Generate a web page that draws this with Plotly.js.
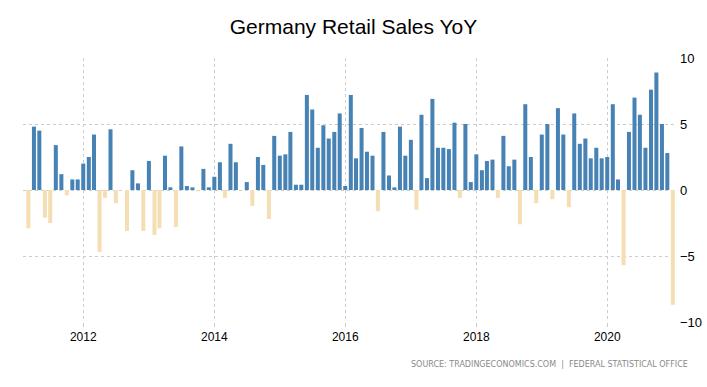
<!DOCTYPE html>
<html>
<head>
<meta charset="utf-8">
<script src="https://cdn.plot.ly/plotly-3.0.1.min.js"></script>
<style>html,body{margin:0;padding:0;background:#fff;}#chart{width:707px;height:387px;}</style>
</head>
<body>
<div id="chart"></div>
<script>
// Monthly YoY change (%), Feb 2011 .. Jan 2021
var startYear = 2011, startMonth = 2;
var values = [
  0, -2.9, 4.8, 4.5, -2.1, -2.5, 3.4, 1.2, -0.4, 0.8, 0.8,          // 2011 Feb-Dec
  2.0, 2.5, 4.2, -4.7, -0.6, 4.6, -1.0, 0, -3.1, 1.5, 0.5, -3.1,     // 2012
  2.2, -3.4, -2.9, 2.6, 0.2, -2.8, 3.3, 0.3, 0.2, -0.1, 1.6, 0.2,    // 2013
  1.0, 2.1, -0.6, 3.5, 2.1, 0, 0.6, -1.2, 2.5, 1.9, -2.2, 4.1,       // 2014
  2.6, 2.7, 4.4, 0.4, 0.4, 7.2, 6.1, 3.2, 4.9, 3.9, 4.4, 5.8,        // 2015
  0.3, 7.2, 2.4, 4.7, 2.9, 2.6, -1.6, 4.4, 1.1, 0.2, 4.8, 2.6,       // 2016
  3.8, -1.5, 5.7, 0.9, 6.9, 3.2, 3.2, 3.1, 5.1, -0.6, 5.0, 0.6,      // 2017
  2.7, 1.5, 2.2, 2.3, -0.6, 4.1, 1.8, 2.3, -2.6, 6.5, 2.5, -1.0,     // 2018
  4.2, 5.0, -0.7, 6.2, 4.2, -1.3, 5.8, 3.5, 3.9, 2.4, 3.2, 2.4,      // 2019
  2.5, 6.5, 0.8, -5.7, 4.4, 7.0, 5.7, 3.2, 7.6, 8.9, 5.0, 2.8,       // 2020
  -8.7                                                               // 2021 Jan
];
var tickVals = ['2012-01-01','2014-01-01','2016-01-01','2018-01-01','2020-01-01'];
var tickText = ['2012','2014','2016','2018','2020'];
var yTicks = [-10, -5, 0, 5, 10];

var dates = [];
for (var i = 0; i < values.length; i++) {
  var m = startMonth - 1 + i;
  var y = startYear + Math.floor(m / 12);
  var mm = (m % 12) + 1;
  dates.push(y + '-' + (mm < 10 ? '0' + mm : mm) + '-01');
}
var colors = values.map(function (v) { return v >= 0 ? '#4682B4' : '#F5DEB3'; });

var trace = {
  type: 'bar',
  x: dates,
  y: values,
  marker: { color: colors, line: { width: 0 } },
  hoverinfo: 'x+y'
};

var layout = {
  width: 707, height: 387,
  margin: { l: 23, r: 30, t: 58, b: 65 },
  paper_bgcolor: '#ffffff', plot_bgcolor: '#ffffff',
  bargap: 0.2,
  showlegend: false,
  font: { family: 'Liberation Sans, Arial, sans-serif', color: '#000' },
  title: { text: 'Germany Retail Sales YoY', font: { size: 21, color: '#000', family: 'Liberation Sans, Arial, sans-serif' }, x: 0.5, xanchor: 'center', y: 0.93, yanchor: 'middle' },
  xaxis: {
    type: 'date',
    range: ['2011-01-30', '2021-01-24'],
    tickvals: tickVals, ticktext: tickText,
    showgrid: true, gridcolor: '#cccccc', griddash: 'dot', gridwidth: 1,
    ticks: 'outside', ticklen: 4, tickcolor: '#cccccc',
    tickfont: { size: 12, color: '#000' },
    zeroline: false, showline: false
  },
  yaxis: {
    side: 'right',
    range: [-10, 10],
    tickvals: yTicks,
    showgrid: true, gridcolor: '#cccccc', griddash: 'dot', gridwidth: 1,
    zeroline: false, showline: false,
    tickfont: { size: 13, color: '#000' },
    ticks: '', ticklabelstandoff: 2
  },
  annotations: [{
    xref: 'paper', yref: 'paper', x: 1.02, y: -0.135, xanchor: 'right', yanchor: 'top',
    text: 'SOURCE: TRADINGECONOMICS.COM  |  FEDERAL STATISTICAL OFFICE',
    showarrow: false,
    font: { size: 8, color: '#8a8a8a', family: 'DejaVu Sans, sans-serif' }
  }]
};

Plotly.newPlot('chart', [trace], layout, { displayModeBar: false, staticPlot: true });
</script>
</body>
</html>
